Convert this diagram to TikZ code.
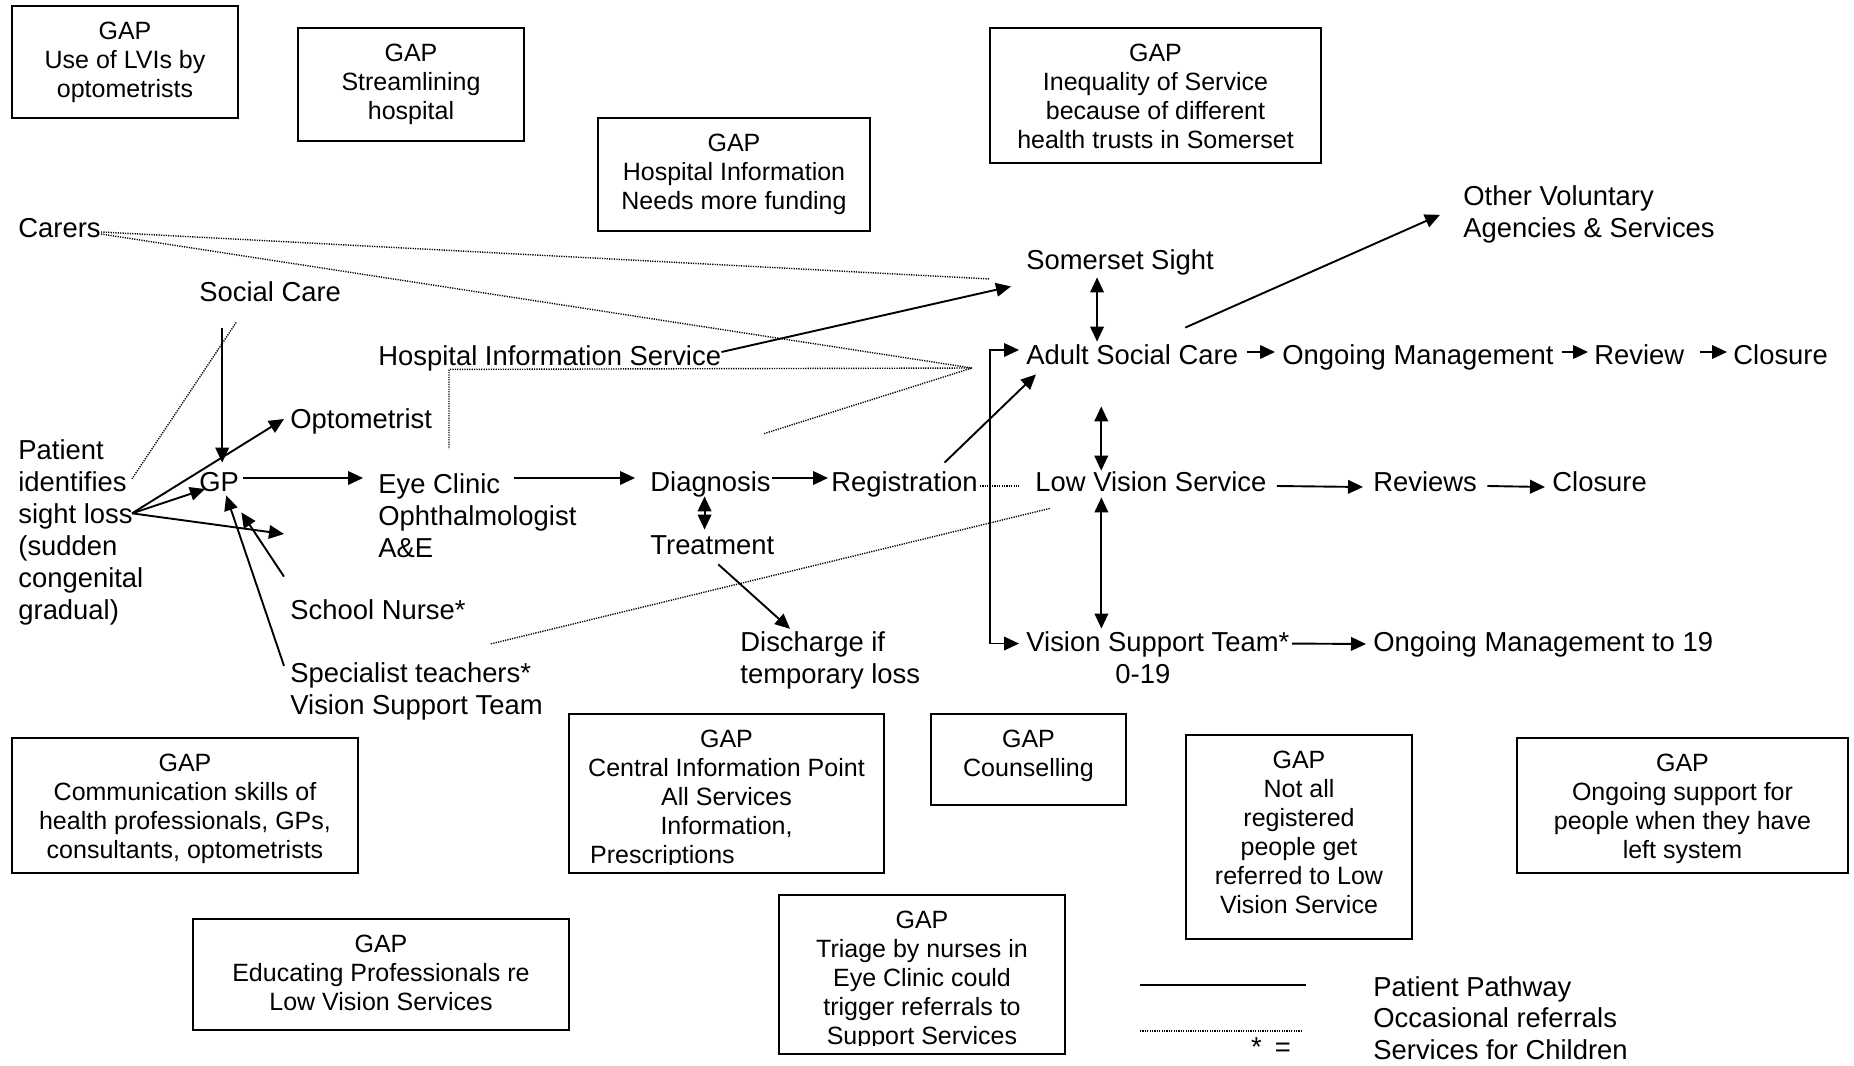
\documentclass[tikz,border=0pt]{standalone}
\usepackage{fontspec}
\setmainfont{Liberation Sans}
\usetikzlibrary{arrows.meta}
\newcommand\fmain{\fontsize{13.7}{16}\selectfont}
\newcommand\fgap{\fontsize{12.5}{14.5}\selectfont}
\begin{document}
\begin{tikzpicture}[x=0.5pt,y=-0.5pt,
  lbl/.style={font=\fmain, inner sep=0pt, anchor=west, text height=11.2pt, text depth=1.8pt},
  mlbl/.style={font=\fmain, inner sep=0pt, anchor=west, align=left},
  gapbox/.style={draw, line width=0.8pt, inner sep=0pt},
  gaptext/.style={font=\fgap, inner sep=0pt, anchor=north, align=center},
  flow/.style={line width=0.95pt, -{Triangle[length=7.5pt,width=6.8pt]}},
  flowboth/.style={line width=0.95pt, {Triangle[length=7.5pt,width=6.8pt]}-{Triangle[length=7.5pt,width=6.8pt]}},
  occ/.style={line width=0.7pt, dash pattern=on 0.6pt off 0.6pt},
]
\useasboundingbox (0,0) rectangle (1854,1066);

% ---------- GAP boxes ----------
\node[gapbox, minimum width=113pt, minimum height=56pt] (g1) at (125,62) {};
\node[gaptext] (g1t) at ([yshift=-8pt]g1.north) {GAP\\Use of LVIs by\\optometrists};
\node[gapbox, minimum width=113pt, minimum height=56.5pt] (g2) at (411,84.5) {};
\node[gaptext] (g2t) at ([yshift=-8pt]g2.north) {GAP\\Streamlining\\hospital};
\node[gapbox, minimum width=136pt, minimum height=56.5pt] (g3) at (734,174.5) {};
\node[gaptext] (g3t) at ([yshift=-8pt]g3.north) {GAP\\Hospital Information\\Needs more funding};
\node[gapbox, minimum width=165.5pt, minimum height=67.5pt] (g4) at (1155.5,95.5) {};
\node[gaptext] (g4t) at ([yshift=-8pt]g4.north) {GAP\\Inequality of Service\\because of different\\health trusts in Somerset};
\node[gapbox, minimum width=173pt, minimum height=67.5pt] (g5) at (185,805.5) {};
\node[gaptext] (g5t) at ([yshift=-8pt]g5.north) {GAP\\Communication skills of\\health professionals, GPs,\\consultants, optometrists};
\node[gapbox, minimum width=157.5pt, minimum height=79.5pt] (g6) at (726.5,793.5) {};
\node[gaptext] (g6t) at ([yshift=-8pt]g6.north) {GAP\\Central Information Point\\All Services\\Information,};
\begin{scope}
  % the last line is cut off at its baseline by the box margin
  \clip ([yshift=-75.6pt]g6.north west) rectangle (g6.north east);
  \node[font=\fgap, inner sep=0pt, anchor=base west] (g6p) at ([xshift=1pt,yshift=-67pt]g6t.north west) {Prescriptions};
\end{scope}
\node[gapbox, minimum width=97.5pt, minimum height=45.5pt] (g7) at (1028.5,759.5) {};
\node[gaptext] (g7t) at ([yshift=-8pt]g7.north) {GAP\\Counselling};
\node[gapbox, minimum width=113pt, minimum height=102pt] (g8) at (1299,837) {};
\node[gaptext] (g8t) at ([yshift=-8pt]g8.north) {GAP\\Not all\\registered\\people get\\referred to Low\\Vision Service};
\node[gapbox, minimum width=165.5pt, minimum height=67.5pt] (g9) at (1682.5,805.5) {};
\node[gaptext] (g9t) at ([yshift=-8pt]g9.north) {GAP\\Ongoing support for\\people when they have\\left system};
\node[gapbox, minimum width=188pt, minimum height=55.5pt] (g10) at (381,974.5) {};
\node[gaptext] (g10t) at ([yshift=-8pt]g10.north) {GAP\\Educating Professionals re\\Low Vision Services};
\node[gapbox, minimum width=143pt, minimum height=79.5pt] (g11) at (922,974.5) {};
\begin{scope}
  \clip ([yshift=-75.6pt]g11.north west) rectangle (g11.north east);
  \node[gaptext] (g11t) at ([yshift=-8pt]g11.north) {GAP\\Triage by nurses in\\Eye Clinic could\\trigger referrals to\\Support Services};
\end{scope}

% ---------- pathway labels ----------
\node[lbl] (carers) at (18,228) {Carers};
\node[lbl] (socialcare) at (199,292) {Social Care};
\node[lbl] (hosp) at (378,356) {Hospital Information Service};
\node[lbl] (optom) at (290,419) {Optometrist};
\node[mlbl] (patient) at (18,532) {Patient\\identifies\\sight loss\\(sudden\\congenital\\gradual)};
\node[lbl] (gp) at (199,482) {GP};
\node[mlbl] (eye) at (378,515.5) {Eye Clinic\\Ophthalmologist\\A\&E};
\node[lbl] (school) at (290,610) {School Nurse*};
\node[mlbl] (spec) at (290,691) {Specialist teachers*\\Vision Support Team};
\node[lbl] (diag) at (650,482) {Diagnosis};
\node[lbl] (treat) at (650,545) {Treatment};
\node[lbl] (reg) at (831,482) {Registration};
\node[mlbl] (disch) at (740,660) {Discharge if\\temporary loss};
\node[lbl] (somerset) at (1026,260) {Somerset Sight};
\node[mlbl] (other) at (1463,214) {Other Voluntary\\Agencies \& Services};
\node[lbl] (adult) at (1026,355) {Adult Social Care};
\node[lbl] (ongoing) at (1282,355) {Ongoing Management};
\node[lbl] (review) at (1594,355) {Review};
\node[lbl] (closeA) at (1733,355) {Closure};
\node[lbl] (lowvis) at (1035,482) {Low Vision Service};
\node[lbl] (reviews) at (1373,482) {Reviews};
\node[lbl] (closeB) at (1552,482) {Closure};
\node[mlbl] (vst) at (1026,658) {Vision Support Team*\\\hspace*{44.5pt}0-19};
\node[lbl] (ongoing19) at (1373,642) {Ongoing Management to 19};

% ---------- patient pathway (solid) ----------
\coordinate (src) at ([xshift=57pt,yshift=-37.25pt]patient.north west);
\coordinate (srcFree) at (284,534);
\draw[flow] ([xshift=1.5pt,yshift=-11.5pt]gp.north |- socialcare.south) -- ([xshift=1.5pt,yshift=3pt]gp.north);
\draw[flow] (src) -- ([xshift=-3pt]optom.west);
\draw[flow] (src) -- ([xshift=3pt,yshift=-3.5pt]gp.west);
\draw[flow] (src) -- (srcFree);
\draw[flow] ([xshift=-3pt,yshift=10pt]school.north west) -- ([xshift=1pt,yshift=-8.5pt]gp.south east);
\draw[flow] ([xshift=-3pt,yshift=-2pt]spec.north west) -- ([xshift=3.5pt]gp.south);
\draw[flow, shorten <=2pt, shorten >=7.5pt] ([yshift=2pt]gp.east) -- ([yshift=2pt]gp.east -| eye.west);
\draw[flow] ([xshift=-68pt,yshift=2pt]diag.west) -- ([xshift=-7.5pt,yshift=2pt]diag.west);
\draw[flow] ([xshift=0.5pt,yshift=2pt]diag.east) -- ([xshift=-1.5pt,yshift=2pt]reg.west);
\draw[flowboth] ([xshift=-3pt,yshift=-0.5pt]diag.south) -- ([xshift=-3pt,yshift=1pt]diag.south |- treat.north);
\draw[flow] ([xshift=3pt,yshift=-3pt]treat.south) -- ([xshift=25pt,yshift=1pt]disch.north west);
\draw[flow] ([xshift=20pt,yshift=3pt]reg.north) -- ([xshift=5pt,yshift=-3pt]adult.south west);
\draw[flow] ([yshift=2pt]hosp.east) -- ([xshift=-7.5pt,yshift=-6.5pt]somerset.south west);
\draw[flowboth] ([xshift=-3.5pt,yshift=2.5pt]adult.west) -- ++(-29,0) |- ([xshift=-3.5pt,yshift=-6pt]vst.north west);
\draw[flowboth] ([xshift=-11.5pt,yshift=-2pt]somerset.south) -- ([xshift=-11.5pt]somerset.south |- adult.north);
\draw[flowboth] ([xshift=-15.5pt,yshift=-19pt]adult.south) -- ([xshift=-15.5pt,yshift=-1pt]adult.south |- lowvis.north);
\draw[flowboth] ([xshift=-24.75pt,yshift=-1pt]lowvis.south) -- ([xshift=-24.75pt,yshift=1.5pt]lowvis.south |- vst.north);
\draw[flow] ([xshift=26.5pt,yshift=7pt]adult.north) -- ([xshift=-11.5pt,yshift=-15pt]other.north west);
\draw[flow] ([xshift=4pt,yshift=1.5pt]adult.east) -- ([xshift=-3.5pt,yshift=1.5pt]ongoing.west);
\draw[flow] ([xshift=4pt,yshift=1.5pt]ongoing.east) -- ([xshift=-3pt,yshift=1.5pt]review.west);
\draw[flow] ([xshift=7.5pt,yshift=1.5pt]review.east) -- ([xshift=-3pt,yshift=1.5pt]closeA.west);
\draw[flow] ([xshift=5pt,yshift=-2pt]lowvis.east) -- ([xshift=-5pt,yshift=-2.5pt]reviews.west);
\draw[flow] ([xshift=5pt,yshift=-2pt]reviews.east) -- ([xshift=-3.5pt,yshift=-2.5pt]closeB.west);
\draw[flow] ([xshift=1pt,yshift=-6pt]vst.north east) -- ([xshift=-3.5pt,yshift=-1pt]ongoing19.west);

% ---------- occasional referrals (dotted) ----------
\coordinate (hub) at (972,368);
\draw[occ] ([yshift=-2pt]carers.east) -- ([xshift=-18pt,yshift=-9.5pt]somerset.west);
\draw[occ] ([yshift=-3pt]carers.east) -- (hub);
\draw[occ] (hub) -- ([xshift=35.5pt]hosp.south west) -- ([xshift=35.5pt,yshift=12pt]eye.north west);
\draw[occ] ([xshift=-3.5pt,yshift=17.5pt]diag.north east) -- (hub);
\draw[occ] ([xshift=1pt,yshift=-2pt]reg.east) -- ([xshift=-8pt,yshift=-2pt]lowvis.west);
\draw[occ] ([xshift=100.5pt,yshift=9pt]spec.north west) -- ([xshift=7.5pt,yshift=-6.5pt]lowvis.south west);
\draw[occ] ([xshift=-17pt,yshift=-8.5pt]socialcare.south) -- ([xshift=57pt,yshift=-20pt]patient.north west);

% ---------- legend ----------
\coordinate (legS1) at (1140,985);
\coordinate (legS2) at (1306,985);
\coordinate (legD1) at (1140,1031);
\coordinate (legD2) at (1303,1031);
\draw[line width=1pt] (legS1) -- (legS2);
\draw[occ] (legD1) -- (legD2);
\node[lbl] (legA) at (1373,987) {Patient Pathway};
\node[lbl] (legB) at (1373,1018.5) {Occasional referrals};
\node[lbl] (legC) at (1373,1050) {Services for Children};
\node[font=\fmain, inner sep=0pt] (legstar) at (1271,1047) {*\hspace{6.5pt}=};
\end{tikzpicture}
\end{document}
